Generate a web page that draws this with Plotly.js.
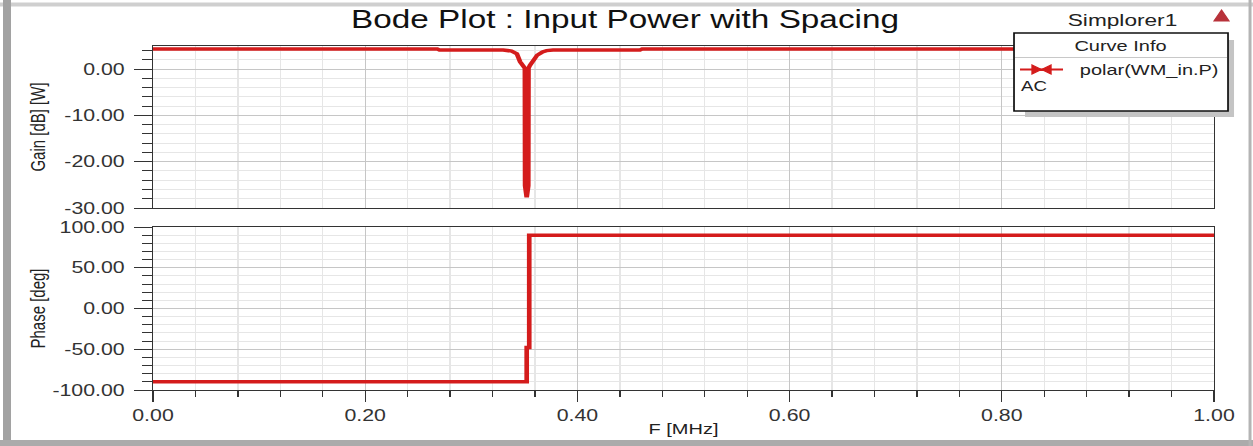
<!DOCTYPE html>
<html><head><meta charset="utf-8">
<script src="https://cdn.plot.ly/plotly-3.0.1.min.js"></script>
<style>
html,body{margin:0;padding:0;background:#fff;overflow:hidden;}
#wrap{width:1253px;height:446px;overflow:hidden;position:relative;background:#fff;}
#plot{width:940px;height:446px;transform:scaleX(1.333);transform-origin:0 0;}
</style></head><body><div id="wrap"><div id="plot"></div></div>
<script>
// ---- data ----
const gainFreq = [0.000, 0.268, 0.270, 0.330, 0.338, 0.343, 0.346, 0.3490, 0.3505, 0.3507, 0.3522, 0.3537, 0.3539, 0.3552, 0.357, 0.362, 0.367, 0.371, 0.377, 0.459, 0.461, 1.000];
const gainDb   = [4.35,  4.35,  4.15,  4.15,  3.90,  3.30,  1.60,  0.70,   0.20,  -25.2,  -27.7,  -25.2,   0.20,   0.80,  1.30,  3.00,  3.70,  4.00,  4.15,  4.15,  4.35,  4.35];
const phaseFreq = [0.000, 0.3522, 0.3522, 0.3546, 0.3546, 1.000];
const phaseDeg  = [-90,   -90,    -48,    -48,    90,     90];
const freqTickVals = [0, 0.2, 0.4, 0.6, 0.8, 1.0];
const freqTickText = ['0.00', '0.20', '0.40', '0.60', '0.80', '1.00'];
const gainTickVals = [0, -10, -20, -30];
const gainTickText = ['0.00', '-10.00', '-20.00', '-30.00'];
const phaseTickVals = [100, 50, 0, -50, -100];
const phaseTickText = ['100.00', '50.00', '0.00', '-50.00', '-100.00'];
const seriesName = 'polar(WM_in.P)';

// ---- layout helpers (screen px -> paper fraction) ----
const W = 1253, H = 446;
const X = v => v / W;
const Y = v => 1 - v / H;
const RED = '#d41c1c';
const FONT = 'Liberation Sans, Arial, sans-serif';

const traces = [
  {x: gainFreq, y: gainDb, xaxis: 'x2', yaxis: 'y2', mode: 'lines', name: seriesName,
   line: {color: RED, width: 3.5}, hoverinfo: 'x+y'},
  {x: phaseFreq, y: phaseDeg, xaxis: 'x', yaxis: 'y', mode: 'lines', name: seriesName,
   line: {color: RED, width: 3.5}, hoverinfo: 'x+y'}
];

const gridMajor = '#c6c6c6', gridMinor = '#e6e6e6', axCol = '#333';
function xAxis(anchor, labels) {
  return {
    domain: [X(153), X(1214)], range: [0, 1], anchor: anchor,
    tickmode: 'array', tickvals: freqTickVals, ticktext: freqTickText,
    showticklabels: labels, ticks: labels ? 'outside' : '', ticklen: 11, tickwidth: 1, tickcolor: axCol,
    tickfont: {family: FONT, size: 16, color: '#333'},
    showline: true, linecolor: axCol, linewidth: 1, mirror: true,
    showgrid: true, gridcolor: gridMajor, zeroline: false,
    minor: {tickmode: 'linear', tick0: 0, dtick: 0.04, ticks: labels ? 'outside' : '', ticklen: 6,
            tickcolor: axCol, showgrid: true, gridcolor: gridMinor}
  };
}
function yAxis(dom, rng, tv, tt, mdt) {
  return {
    domain: dom, range: rng,
    tickmode: 'array', tickvals: tv, ticktext: tt,
    ticks: 'outside', ticklen: 13, tickwidth: 1, tickcolor: axCol, ticklabelstandoff: 4,
    tickfont: {family: FONT, size: 16, color: '#333'},
    showline: true, linecolor: axCol, linewidth: 1, mirror: true,
    showgrid: true, gridcolor: gridMajor, zeroline: false,
    minor: {tickmode: 'linear', tick0: 0, dtick: mdt, ticks: 'outside', ticklen: 7.5,
            tickcolor: axCol, showgrid: true, gridcolor: gridMinor}
  };
}

const xa = xAxis('y', true);
xa.title = {text: 'F [MHz]', font: {family: FONT, size: 15, color: '#222'}, standoff: 0};
const xa2 = xAxis('y2', false);
xa2.matches = 'x';
const ya = yAxis([Y(390), Y(227)], [-100, 100], phaseTickVals, phaseTickText, 10);
ya.anchor = 'x';
ya.title = {text: 'Phase [deg]', font: {family: FONT, size: 15, color: '#222'}, standoff: 1};
const ya2 = yAxis([Y(208), Y(46)], [-30, 5], gainTickVals, gainTickText, 2);
ya2.anchor = 'x2';
ya2.title = {text: 'Gain [dB] [W]', font: {family: FONT, size: 15, color: '#222'}, standoff: 10};

const shapes = [
  // window frame
  {type: 'rect', xref: 'paper', yref: 'paper', x0: X(0), x1: X(1253), y0: Y(2.5), y1: Y(6.5), fillcolor: '#cfcfcf', line: {width: 0}, layer: 'below'},
  {type: 'rect', xref: 'paper', yref: 'paper', x0: X(3), x1: X(11), y0: Y(0), y1: Y(446), fillcolor: '#a2a2a2', line: {width: 0}, layer: 'below'},
  {type: 'rect', xref: 'paper', yref: 'paper', x0: X(0), x1: X(1253), y0: Y(440), y1: Y(446), fillcolor: '#ababab', line: {width: 0}, layer: 'below'},
  {type: 'rect', xref: 'paper', yref: 'paper', x0: X(1248.5), x1: X(1251.5), y0: Y(0), y1: Y(446), fillcolor: '#b4b4b4', line: {width: 0}, layer: 'below'},
  // legend box shadow + box
  {type: 'rect', xref: 'paper', yref: 'paper', x0: X(1025), x1: X(1234), y0: Y(117), y1: Y(40), fillcolor: '#c4c4c4', line: {width: 0}, layer: 'above'},
  {type: 'rect', xref: 'paper', yref: 'paper', x0: X(1014), x1: X(1228), y0: Y(111), y1: Y(33), fillcolor: '#ffffff', line: {color: '#111', width: 1.3}, layer: 'above'},
  {type: 'line', xref: 'paper', yref: 'paper', x0: X(1015), x1: X(1227), y0: Y(57.5), y1: Y(57.5), line: {color: '#c8c8c8', width: 1}, layer: 'above'},
  // legend symbol
  {type: 'line', xref: 'paper', yref: 'paper', x0: X(1020), x1: X(1063), y0: Y(69.5), y1: Y(69.5), line: {color: RED, width: 2}, layer: 'above'},
  {type: 'path', xref: 'paper', yref: 'paper', layer: 'above', fillcolor: RED, line: {color: RED, width: 1},
   path: `M ${X(1032)} ${Y(65)} L ${X(1041.5)} ${Y(69.5)} L ${X(1032)} ${Y(74)} Z M ${X(1051)} ${Y(65)} L ${X(1041.5)} ${Y(69.5)} L ${X(1051)} ${Y(74)} Z`},
  // logo
  {type: 'path', xref: 'paper', yref: 'paper', layer: 'above', fillcolor: '#b8323a', line: {color: '#b8323a', width: 1},
   path: `M ${X(1221.5)} ${Y(10)} L ${X(1229)} ${Y(21)} L ${X(1214)} ${Y(21)} Z`}
];

const annotations = [
  {xref: 'paper', yref: 'paper', x: X(1122), y: Y(20), text: 'Simplorer1', showarrow: false, xanchor: 'center', yanchor: 'middle', font: {family: FONT, size: 17, color: '#222'}},
  {xref: 'paper', yref: 'paper', x: X(1120), y: Y(46), text: 'Curve Info', showarrow: false, xanchor: 'center', yanchor: 'middle', font: {family: FONT, size: 15, color: '#222'}},
  {xref: 'paper', yref: 'paper', x: X(1077), y: Y(69), text: seriesName, showarrow: false, xanchor: 'left', yanchor: 'middle', font: {family: FONT, size: 15, color: '#222'}},
  {xref: 'paper', yref: 'paper', x: X(1018), y: Y(86), text: 'AC', showarrow: false, xanchor: 'left', yanchor: 'middle', font: {family: FONT, size: 14, color: '#222'}}
];

const layout = {
  width: 940, height: 446,
  margin: {l: 0, r: 0, t: 0, b: 0, pad: 0},
  paper_bgcolor: '#ffffff', plot_bgcolor: '#ffffff',
  showlegend: false,
  title: {text: 'Bode Plot : Input Power with Spacing', x: X(625), xanchor: 'center', y: Y(19), yanchor: 'middle', xref: 'paper',
          font: {family: FONT, size: 25, color: '#111'}},
  xaxis: xa, xaxis2: xa2, yaxis: ya, yaxis2: ya2,
  shapes: shapes, annotations: annotations
};

Plotly.newPlot('plot', traces, layout, {staticPlot: true, displayModeBar: false});
</script>
</body></html>
